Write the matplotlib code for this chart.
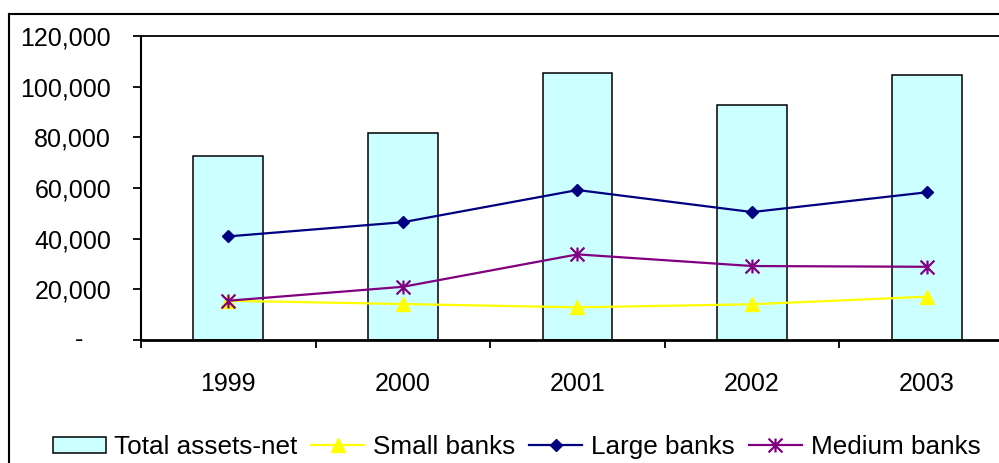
import matplotlib
matplotlib.use("Agg")
import matplotlib.pyplot as plt
from matplotlib.path import Path
from matplotlib.lines import Line2D
from matplotlib.ticker import FuncFormatter, FixedLocator

plt.rcParams['font.family'] = ['Liberation Sans', 'DejaVu Sans']

years = ["1999", "2000", "2001", "2002", "2003"]
total_assets = [72600, 81800, 105500, 92900, 104700]
small_banks = [15500, 14200, 12900, 14100, 17100]
large_banks = [40900, 46500, 59200, 50500, 58300]
medium_banks = [15500, 21000, 33800, 29200, 28900]
y_ticks = [0, 20000, 40000, 60000, 80000, 100000, 120000]

FS = 18
LFS = 18.8
W, H = 999, 463
fig = plt.figure(figsize=(W / 100, H / 100), dpi=100)

# outer chart border: left and top edges (the rest runs off the canvas)
bx, by = 9 / W, 1 - 14 / H
fig.lines.append(Line2D([bx, bx], [0, by], transform=fig.transFigure,
                        color='black', lw=1.5))
fig.lines.append(Line2D([bx, 1], [by, by], transform=fig.transFigure,
                        color='black', lw=1.5))

# plot area: each category is 174.6 px wide; the last one is cut by the canvas edge
cat_w = 174.6
left_px = 141
vis_px = W - left_px
ax = fig.add_axes([left_px / W, 1 - 340 / H, vis_px / W, 304 / H])

x = list(range(len(years)))
bars = ax.bar(x, total_assets, width=0.4, color='#CCFFFF', edgecolor='black',
              linewidth=1.1, zorder=2, label='Total assets-net')

star = Path([(0, -1), (0, 1), (-1, -1), (1, 1), (-1, 1), (1, -1)],
            [Path.MOVETO, Path.LINETO, Path.MOVETO, Path.LINETO,
             Path.MOVETO, Path.LINETO])

l_small, = ax.plot(x, small_banks, color='#FFFF00', lw=1.6, marker='^', ms=9.5,
                   mec='#FFFF00', mfc='#FFFF00', zorder=3, label='Small banks')
l_large, = ax.plot(x, large_banks, color='#000080', lw=1.6, marker='D', ms=6.6,
                   mec='#000080', mfc='#000080', zorder=4, label='Large banks')
l_med, = ax.plot(x, medium_banks, color='#800080', lw=1.6, marker=star, ms=10,
                 mec='#800080', mfc='none', mew=1.6, zorder=5, label='Medium banks')

ax.set_xlim(-0.5, -0.5 + vis_px / cat_w)
ax.set_ylim(0, 120000)

# category boundaries carry the tick marks, centres carry the labels
ax.xaxis.set_major_locator(FixedLocator([i - 0.5 for i in range(5)]))
ax.xaxis.set_minor_locator(FixedLocator(x))
ax.set_xticklabels([], minor=False)
ax.set_xticklabels(years, minor=True, fontsize=FS)
ax.tick_params(axis='x', which='major', direction='out', length=5.8,
               width=1.3, color='black')
ax.tick_params(axis='x', which='minor', length=0, pad=23)

ax.set_yticks(y_ticks)
ax.yaxis.set_major_formatter(FuncFormatter(lambda v, p: '' if v == 0 else f'{int(v):,}'))
ax.tick_params(axis='y', direction='out', length=5.8, width=1.3,
               pad=15.8, labelsize=FS)
ax.text((83 - left_px) / vis_px, 0, '-', ha='right', va='center',
        fontsize=FS, transform=ax.get_yaxis_transform())

ax.spines['right'].set_visible(False)
for side, lw in [('top', 1.3), ('left', 1.5), ('bottom', 2.0)]:
    ax.spines[side].set_color('black')
    ax.spines[side].set_linewidth(lw)

fig.legend([bars, l_small, l_large, l_med],
           ['Total assets-net', 'Small banks', 'Large banks', 'Medium banks'],
           loc='center left', bbox_to_anchor=(52.5 / W, 1 - 447 / H), ncol=4,
           frameon=False, borderpad=0, borderaxespad=0, handlelength=2.03,
           handleheight=0.54, handletextpad=0.33, columnspacing=0.54,
           fontsize=LFS)

fig.savefig('out.png', dpi=100)
